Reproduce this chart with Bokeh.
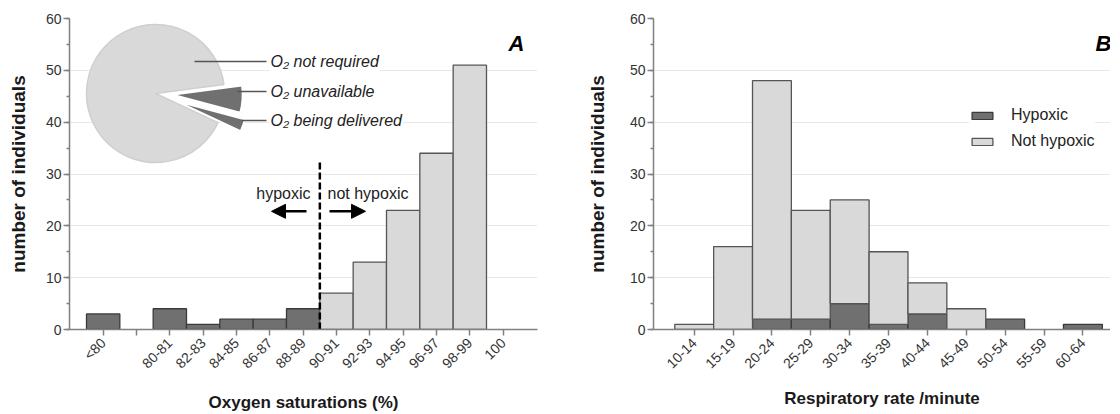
import math
from bokeh.plotting import figure
from bokeh.models import (Range1d, FixedTicker, SingleIntervalTicker, Label, Arrow,
                          NormalHead, Legend, LegendItem, ColumnDataSource,
                          GlobalInlineStyleSheet)
from bokeh.layouts import row
from bokeh.embed import file_html
from bokeh.resources import INLINE

# ---------------- data ----------------
sat_labels = ["<80", "", "80-81", "82-83", "84-85", "86-87", "88-89",
              "90-91", "92-93", "94-95", "96-97", "98-99", "100"]
sat_hypoxic = [3, 0, 4, 1, 2, 2, 4, 0, 0, 0, 0, 0, 0]
sat_not_hypoxic = [0, 0, 0, 0, 0, 0, 0, 7, 13, 23, 34, 51, 0]

rr_labels = ["10-14", "15-19", "20-24", "25-29", "30-34", "35-39",
             "40-44", "45-49", "50-54", "55-59", "60-64"]
rr_hypoxic = [0, 0, 2, 2, 5, 1, 3, 0, 2, 0, 1]
rr_not_hypoxic = [1, 16, 46, 21, 20, 14, 6, 4, 0, 0, 0]

o2_labels = ["O\u2082 not required", "O\u2082 unavailable", "O\u2082 being delivered"]
o2_counts = [131, 9, 4]

# ---------------- style ----------------
FONT = "Liberation Sans"
DARK = "#707070"
LIGHT = "#d9d9d9"
DARK_LINE = "#3a3a3a"
LIGHT_LINE = "#555555"
AXIS = "#808080"
TICK_TXT = "#333333"
LBL_TXT = "#1a1a1a"

PAGE = 2          # observed page offset of the layout
TOP = 18
FRAME_TOP = PAGE + TOP
FRAME_H = 311
BOTTOM = 96
H = TOP + FRAME_H + BOTTOM
Y0, Y1 = 0, 60
sy = FRAME_H / (Y1 - Y0)


def ay_px(py):  # page y pixel -> data y
    return Y1 - (py - FRAME_TOP) / sy


def make_fig(width, xr, left, right, labels, xtitle, ystandoff):
    p = figure(width=width, height=H, x_range=Range1d(*xr), y_range=Range1d(Y0, Y1),
               output_backend="svg", toolbar_location=None,
               min_border_left=left, min_border_right=right,
               min_border_top=TOP, min_border_bottom=BOTTOM)
    p.outline_line_color = None
    p.background_fill_color = "white"
    p.xgrid.visible = False
    yt = SingleIntervalTicker(interval=10, num_minor_ticks=2)
    p.yaxis.ticker = yt
    p.ygrid.ticker = yt
    p.ygrid.grid_line_color = "#e8e8e8"
    p.ygrid.grid_line_width = 1

    p.xaxis.ticker = FixedTicker(ticks=list(range(len(labels))))
    p.xaxis.major_label_overrides = {i: l for i, l in enumerate(labels)}
    p.xaxis.major_label_orientation = math.pi / 4
    p.xaxis.minor_tick_line_color = None

    for ax in (p.xaxis[0], p.yaxis[0]):
        ax.axis_line_color = AXIS
        ax.axis_line_width = 1.5
        ax.major_tick_line_color = AXIS
        ax.major_tick_line_width = 1.5
        ax.major_tick_in = 0
        ax.major_tick_out = 6
        ax.major_label_text_font = FONT
        ax.major_label_text_font_size = "14px"
        ax.major_label_text_color = TICK_TXT
        ax.axis_label_text_font = FONT
        ax.axis_label_text_font_style = "bold"
        ax.axis_label_text_color = LBL_TXT
    p.yaxis.minor_tick_line_color = AXIS
    p.yaxis.minor_tick_line_width = 1.5
    p.yaxis.minor_tick_in = 0
    p.yaxis.minor_tick_out = 3
    p.yaxis.major_label_standoff = 2
    p.xaxis.major_label_standoff = 5
    p.yaxis.axis_label = "number of individuals"
    p.yaxis.axis_label_text_font_size = "19px"
    p.yaxis.axis_label_standoff = ystandoff
    p.xaxis.axis_label = xtitle
    p.xaxis.axis_label_text_font_size = "17px"
    p.xaxis.axis_label_standoff = 13
    return p


# ================= Panel A =================
A_LEFT, A_FRAME_W, A_RIGHT = 69, 468, 41
A_XR = (-1.01, 13.03)
pa = make_fig(A_LEFT + A_FRAME_W + A_RIGHT, A_XR, A_LEFT, A_RIGHT, sat_labels,
              "Oxygen saturations (%)", 14)
sx = A_FRAME_W / (A_XR[1] - A_XR[0])


def ax_px(px):  # page x pixel -> data x (panel A)
    return A_XR[0] + (px - (PAGE + A_LEFT)) / sx


idx_a = list(range(len(sat_labels)))
src_ah = ColumnDataSource(dict(x=[i for i in idx_a if sat_hypoxic[i] > 0],
                               top=[v for v in sat_hypoxic if v > 0]))
src_an = ColumnDataSource(dict(x=[i for i in idx_a if sat_not_hypoxic[i] > 0],
                               top=[v for v in sat_not_hypoxic if v > 0]))
pa.vbar(x="x", top="top", bottom=0, width=1.0, source=src_ah,
        fill_color=DARK, line_color=DARK_LINE, line_width=1.3)
pa.vbar(x="x", top="top", bottom=0, width=1.0, source=src_an,
        fill_color=LIGHT, line_color=LIGHT_LINE, line_width=1.3)

# threshold between hypoxic and not hypoxic
thr = sat_labels.index("90-91") - 0.5
pa.segment(x0=[thr], y0=[0], x1=[thr], y1=[32.5], line_color="black",
           line_width=2.5, line_dash="7 3")
pa.add_layout(Label(x=thr - 0.28, y=26.3, text="hypoxic", text_align="right",
                    text_baseline="middle", text_font=FONT, text_font_size="16px",
                    text_color="#222222"))
pa.add_layout(Label(x=thr + 0.23, y=26.3, text="not hypoxic", text_align="left",
                    text_baseline="middle", text_font=FONT, text_font_size="16px",
                    text_color="#222222"))
pa.add_layout(Arrow(x_start=thr - 0.4, y_start=22.8, x_end=thr - 1.45, y_end=22.8,
                    line_width=2.5, line_color="black",
                    end=NormalHead(size=14, fill_color="black", line_color="black")))
pa.add_layout(Arrow(x_start=thr + 0.29, y_start=22.8, x_end=thr + 1.37, y_end=22.8,
                    line_width=2.5, line_color="black",
                    end=NormalHead(size=14, fill_color="black", line_color="black")))

# inset pie
cx, cy = ax_px(157), ay_px(95)
R = 69
total = sum(o2_counts)
spans = [2 * math.pi * c / total for c in o2_counts]
a_top = math.radians(7.5)
starts = [a_top, a_top - spans[1], a_top - spans[1] - spans[2]]
ends = [a_top + spans[0], a_top, a_top - spans[1]]
explode = [0, 18, 24]
pie_colors = [LIGHT, DARK, DARK]
for s, e, ex, c in zip(starts, ends, explode, pie_colors):
    mid = (s + e) / 2
    px_off = ex * math.cos(mid)
    py_off = ex * math.sin(mid)
    pa.wedge(x=[cx + px_off / sx], y=[cy + py_off / sy], radius=R, radius_units="screen",
             start_angle=s, end_angle=e, fill_color=c,
             line_color="white" if c == DARK else "#cfcfcf", line_width=1.5)

leader_start = [196, 239, 243]
leader_y = [63, 93, 122]
for lx, ly, txt in zip(leader_start, leader_y, o2_labels):
    pa.segment(x0=[ax_px(lx)], y0=[ay_px(ly)], x1=[ax_px(268)], y1=[ay_px(ly)],
               line_color="#555555", line_width=1.5)
    pa.add_layout(Label(x=ax_px(271), y=ay_px(ly), text=txt, text_align="left",
                        text_baseline="middle", text_font=FONT, text_font_size="16px",
                        text_font_style="italic", text_color="#222222",
                        background_fill_color="white", padding=1))

pa.add_layout(Label(x=ax_px(518), y=ay_px(45), text="A", text_align="center",
                    text_baseline="middle", text_font=FONT, text_font_size="22px",
                    text_font_style="bold italic", text_color="black"))

# ================= Panel B =================
B_LEFT, B_FRAME_W, B_RIGHT = 75, 457, 0
B_XR = (-1.047, 10.71)
pb = make_fig(B_LEFT + B_FRAME_W + B_RIGHT, B_XR, B_LEFT, B_RIGHT, rr_labels,
              "Respiratory rate /minute", 19)
bsx = B_FRAME_W / (B_XR[1] - B_XR[0])
B_PAGE_LEFT = PAGE + A_LEFT + A_FRAME_W + A_RIGHT


def bx_px(px):
    return B_XR[0] + (px - (B_PAGE_LEFT + B_LEFT)) / bsx


idx_b = list(range(len(rr_labels)))
src_bh = ColumnDataSource(dict(x=[i for i in idx_b if rr_hypoxic[i] > 0],
                               top=[rr_hypoxic[i] for i in idx_b if rr_hypoxic[i] > 0]))
src_bn = ColumnDataSource(dict(x=[i for i in idx_b if rr_not_hypoxic[i] > 0],
                               bottom=[rr_hypoxic[i] for i in idx_b if rr_not_hypoxic[i] > 0],
                               top=[rr_hypoxic[i] + rr_not_hypoxic[i] for i in idx_b
                                    if rr_not_hypoxic[i] > 0]))
r_dark = pb.vbar(x="x", top="top", bottom=0, width=1.0, source=src_bh,
                 fill_color=DARK, line_color=DARK_LINE, line_width=1.3)
r_light = pb.vbar(x="x", top="top", bottom="bottom", width=1.0, source=src_bn,
                  fill_color=LIGHT, line_color=LIGHT_LINE, line_width=1.3)

legend = Legend(items=[LegendItem(label="Hypoxic", renderers=[r_dark]),
                       LegendItem(label="Not hypoxic", renderers=[r_light])],
                location=(316, 178), glyph_width=26, glyph_height=9,
                label_height=20, spacing=6, padding=10, margin=0,
                label_standoff=16, label_text_font=FONT,
                label_text_font_size="16px", label_text_color="#222222",
                border_line_color=None, background_fill_color="white",
                background_fill_alpha=1.0)
pb.add_layout(legend)

pb.add_layout(Label(x=bx_px(1105), y=ay_px(45), text="B", text_align="center",
                    text_baseline="middle", text_font=FONT, text_font_size="22px",
                    text_font_style="bold italic", text_color="black"))

layout = row(pa, pb, spacing=0,
             stylesheets=[GlobalInlineStyleSheet(css="html, body { overflow: hidden; }")])
open("out.html", "w").write(file_html(layout, INLINE))
